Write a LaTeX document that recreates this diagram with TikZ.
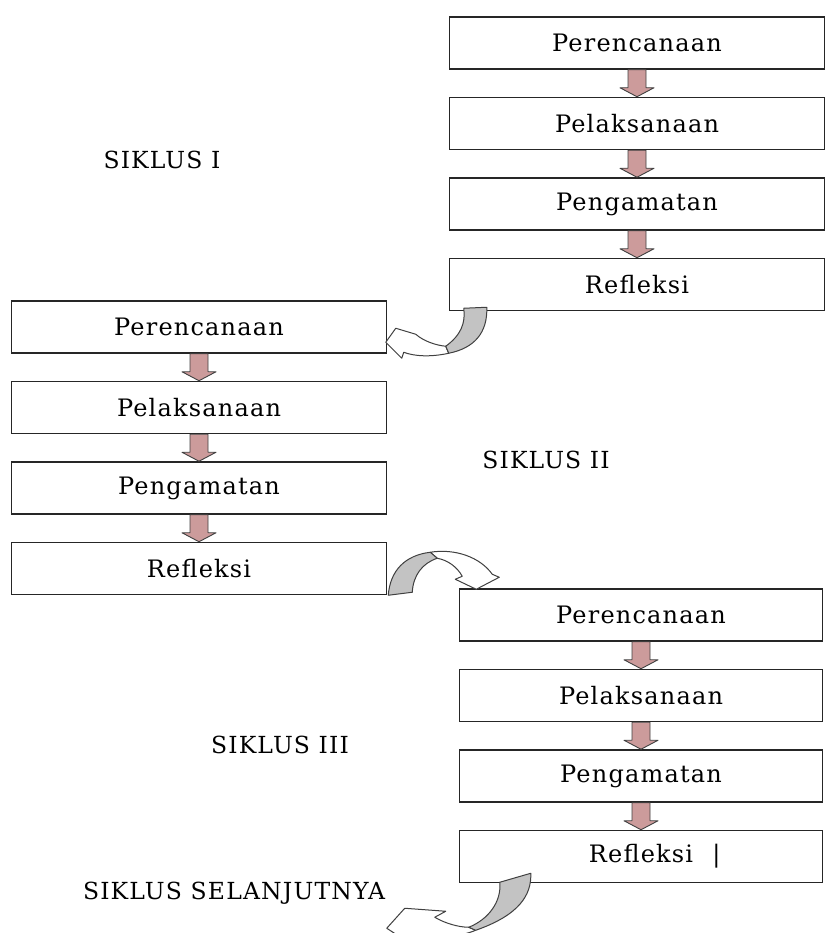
\documentclass[tikz,border=0pt]{standalone}
\usepackage{fontspec}
\setmainfont{DejaVu Serif}[LetterSpace=5]
\usetikzlibrary{positioning, calc}
\definecolor{arrowpink}{RGB}{204,155,155}
\definecolor{ribbongray}{RGB}{195,195,195}

\begin{document}
\begin{tikzpicture}
[
x=1pt, y=-1pt,
inner sep=2mm,
minimum height=52pt,
node distance = 27pt,
std1/.style={rectangle, draw=black!85, line width=1.5pt, minimum width=375pt, align=center, font=\fontsize{24}{28}\selectfont},
std2/.style={rectangle, draw=black!85, line width=1.5pt, minimum width=363pt, align=center, font=\fontsize{24}{28}\selectfont},
std3/.style={minimum height=0pt, inner sep=0pt, font=\fontsize{23.5}{27}\selectfont},
downarr/.style={fill=arrowpink, draw=black!75, line width=0.9pt, line join=round},
ribbon/.style={draw=black!75, line width=1pt, line join=round},
]
\useasboundingbox (0,0) rectangle (833,933);

% siklus I
\node [std1] (plan1) at (637,43) {Perencanaan};
\node [std1, below = of plan1] (act1) {Pelaksanaan};
\node [std1, below = of act1] (obs1) {Pengamatan};
\node [std1, below = of obs1] (refl1) {Refleksi};

% siklus II
\node [std1] (plan2) at (199,327) {Perencanaan};
\node [std1, below = of plan2] (act2) {Pelaksanaan};
\node [std1, below = of act2] (obs2) {Pengamatan};
\node [std1, below = of obs2] (refl2) {Refleksi};

% siklus III
\node [std2] (plan3) at (641,615) {Perencanaan};
\node [std2, below = of plan3] (act3) {Pelaksanaan};
\node [std2, below = of act3] (obs3) {Pengamatan};
\node [std2, below = of obs3] (refl3) {Refleksi\rlap{\hspace{0.8em}|}};

\node [std3] (cyc1) at (162,160) {SIKLUS I};
\node [std3] (cyc2) at (546,460) {SIKLUS II};
\node [std3] (cyc3) at (280,745) {SIKLUS III};
\node [std3] (next) at (234,893) {SIKLUS SELANJUTNYA};

% block arrows between the steps
\foreach \src/\dst in {plan1/act1, act1/obs1, obs1/refl1, plan2/act2, act2/obs2, obs2/refl2, plan3/act3, act3/obs3, obs3/refl3}
  \draw [downarr] ($(\src.south)+(-9pt,0)$) -- ($(\dst.north)+(-9pt,9pt)$) -- ($(\dst.north)+(-17pt,9pt)$) -- (\dst.north)
    -- ($(\dst.north)+(17pt,9pt)$) -- ($(\dst.north)+(9pt,9pt)$) -- ($(\src.south)+(9pt,0)$) -- cycle;

% refleksi I -> perencanaan II
\begin{scope}[shift={(refl1.south west)}]
\draw [ribbon, fill=white] (0,42) .. controls (-18,46) and (-35,45) .. (-45,41) -- (-47,47) -- (-63,31) -- (-53,17)
  -- (-33,23) .. controls (-25,30) and (-13,34) .. (-3,35) -- cycle;
\draw [ribbon, fill=ribbongray] (15,-3) -- (38,-4) .. controls (39,22) and (25,37) .. (0,42) -- (-3,35)
  .. controls (12,24) and (17,12) .. cycle;
\end{scope}

% refleksi II -> perencanaan III
\begin{scope}[shift={(refl2.south east)}]
\draw [ribbon, fill=white] (43,-43) .. controls (68,-47) and (93,-38) .. (105,-21) -- (112,-18) -- (89,-6) -- (68,-16)
  -- (75,-19) .. controls (70,-28) and (61,-35) .. (50,-37) -- cycle;
\draw [ribbon, fill=ribbongray] (1,0) .. controls (3,-25) and (18,-40) .. (43,-43) -- (50,-37)
  .. controls (35,-32) and (26,-20) .. (25,-3) -- cycle;
\end{scope}

% refleksi III -> siklus selanjutnya
\begin{scope}[shift={(refl3.south west)}]
\draw [ribbon, fill=white] (17,47) .. controls (0,54) and (-25,56) .. (-42,52) -- (-52,58) -- (-72,45) -- (-54,25)
  -- (-13,28) -- (-24,34) .. controls (-14,40) and (0,44) .. (10,44) -- cycle;
\draw [ribbon, fill=ribbongray] (41,-1) -- (72,-10) .. controls (73,12) and (60,32) .. (17,47) -- (10,44)
  .. controls (30,36) and (43,18) .. cycle;
\end{scope}
\end{tikzpicture}
\end{document}
